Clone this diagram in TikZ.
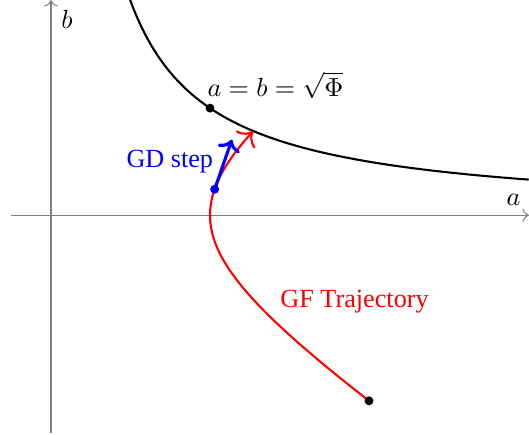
\documentclass[tikz,border=0pt]{standalone}
\usepackage[no-math]{fontspec}
\setmainfont{Liberation Serif}
\usetikzlibrary{arrows.meta}
\begin{document}
\begin{tikzpicture}[x=60.7pt,y=40.9pt,
  axis/.style={gray,->},
  bigtip/.style={-{To[scale=1.4]}},
  bluetip/.style={-{To[scale=1.0]}},
  dot/.style={circle,fill,inner sep=0pt,minimum size=3.4pt},
  lbl/.style={inner sep=0pt,anchor=base west}]
\useasboundingbox (-0.3208,-2.0467) rectangle (3.0063,2.0093);
% axes
\coordinate (xs) at (-0.2516,0);
\coordinate (xe) at (3.0063,0);
\coordinate (ys) at (0,-2.03);
\coordinate (ye) at (0,2.0093);
\draw[axis] (xs) -- (xe);
\draw[axis] (ys) -- (ye);
\node (blab) at (0.1006,1.832) {$b$};
\node (alab) at (2.909,0.140) {$a$};
% hyperbola ab = Phi
\draw[thick] plot[domain=0.497:3.0063,samples=120,smooth] (\x,{1/\x});
\node[dot] (eq) at (1,1) {};
\node[lbl] (eqlab) at (0.981,1.112) {$a=b=\sqrt{\Phi}$};
% GF trajectory
\draw[red,thick,bigtip] plot[smooth,domain=-1.317:0.7218,samples=80,variable=\t] ({cosh(\t)},{sinh(\t)});
\node[dot] (start) at ({cosh(-1.317)},{sinh(-1.317)}) {};
\node[lbl,red] (gflab) at (1.440,-0.8626) {GF Trajectory};
% GD step
\node[dot,blue] (gd) at ({cosh(0.24)},{sinh(0.24)}) {};
\coordinate (gdend) at (1.138,0.706);
\draw[blue,very thick,bluetip] (gd.center) -- (gdend);
\node[lbl,blue] (gdlab) at (0.4717,0.445) {GD step};
\end{tikzpicture}
\end{document}
